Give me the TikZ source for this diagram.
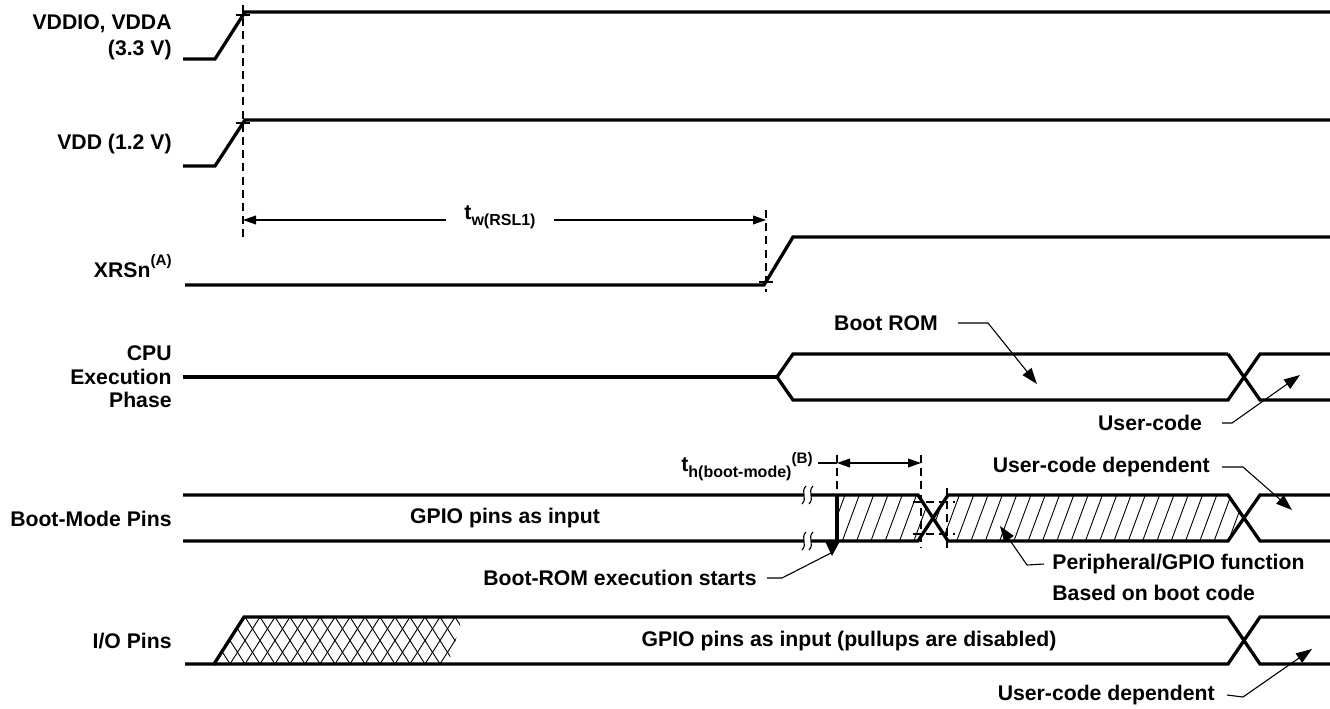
\documentclass[tikz,border=0pt]{standalone}
\usepackage{fontspec}
\setmainfont{Liberation Sans}
\usetikzlibrary{arrows.meta}
\newcommand{\lsub}[1]{\raisebox{-0.55ex}{\fontsize{8pt}{8pt}\selectfont\bfseries #1}}
\newcommand{\lsup}[2][1.05ex]{\raisebox{#1}{\fontsize{7.6pt}{7.6pt}\selectfont\bfseries #2}}
\begin{document}
\begin{tikzpicture}[x=0.5pt,y=-0.5pt,
  sig/.style={line width=1.65pt},
  lbl/.style={font=\fontsize{10.6pt}{11.8pt}\selectfont\bfseries, inner sep=0pt},
  lead/.style={line width=0.55pt},
  ldarrow/.style={lead,-{Triangle[length=8pt,width=5.6pt]}},
  dimarr/.style={lead,-{Triangle[length=6.5pt,width=4.4pt]}},
  ext/.style={line width=0.55pt,dash pattern=on 4pt off 2.6pt},
  hatch/.style={line width=0.45pt}]
\useasboundingbox (0,0) rectangle (1330,708);

% ---------- left labels ----------
\node[lbl,anchor=east,align=right] (lvddio) at (172,37) {VDDIO, VDDA\\[1.2pt](3.3 V)};
\node[lbl,anchor=east] (lvdd) at (172,144) {VDD (1.2 V)};
\node[lbl,anchor=east] (lxrs) at (172,266) {XRSn\lsup{(A)}};
\node[lbl,anchor=east,align=right] (lcpu) at (172,377) {CPU\\Execution\\Phase};
\node[lbl,anchor=east] (lboot) at (172,519) {Boot-Mode Pins};
\node[lbl,anchor=east] (lio) at (172,641) {I/O Pins};

% ---------- supplies ----------
\draw[sig] (183,59) -- (215,59) -- (245,12) -- (1330,12);
\draw[sig] (183,166) -- (215,166) -- (245,120) -- (1330,120);
\coordinate (dA) at (243,5);
\coordinate (dB) at (243,238);
\draw[ext] (dA) -- (dB);
\draw[lead] (236,15) -- (250,15);
\draw[lead] (236,123) -- (250,123);

% ---------- XRSn ----------
\draw[sig] (185,285) -- (764,285) -- (793,237) -- (1330,237);
\coordinate (eA) at (766,210);
\coordinate (eB) at (766,292);
\draw[ext] (eA) -- (eB);
\draw[lead] (759,282) -- (773,282);
\node[lbl,inner xsep=9pt] (tw) at (500,217) {t\lsub{w(RSL1)}};
\coordinate (twL) at (243,220);
\coordinate (twR) at (766,220);
\draw[dimarr] (tw.west |- twL) -- (twL);
\draw[dimarr] (tw.east |- twR) -- (twR);

% ---------- CPU ----------
\draw[sig] (183,377) -- (777,377);
\draw[sig] (1228,354) -- (793,354) -- (777,377) -- (793,400) -- (1228,400) -- (1260,354) -- (1330,354);
\draw[sig] (1228,354) -- (1260,400) -- (1330,400);
\node[lbl] (lbrom) at (886,323) {Boot ROM};
\coordinate (brom) at (1037,384);
\draw[ldarrow] ([xshift=10pt]lbrom.east) -- (988,323) -- (brom);
\node[lbl] (lucode) at (1150,423) {User-code};
\coordinate (ucode) at (1300,375);
\draw[ldarrow] ([xshift=10pt]lucode.east) -- (1232,423) -- (ucode);

% ---------- Boot-mode pins ----------
\begin{scope}
\clip (837,495) -- (918,495) -- (933,518) -- (918,541) -- (837,541) -- cycle
      (933,518) -- (948,495) -- (1228,495) -- (1244,518) -- (1228,541) -- (948,541) -- cycle;
\foreach \i in {0,...,30}
  \draw[hatch] ({828+\i*14.3},541) -- ({845+\i*14.3},495);
\end{scope}
\draw[sig] (183,495) -- (918,495) -- (948,541) -- (1228,541) -- (1260,495) -- (1330,495);
\draw[sig] (183,541) -- (918,541) -- (948,495) -- (1228,495) -- (1260,541) -- (1330,541);
\draw[sig] (837,495) -- (837,541);
% break marks
\foreach \yy in {495,541} {
  \fill[white] (804,\yy-3) rectangle (811,\yy+3);
  \foreach \xx in {804,811}
    \draw[lead] (\xx+2,\yy-9) .. controls (\xx-4,\yy-3) and (\xx+4,\yy+3) .. (\xx-2,\yy+9);
}
\node[lbl] (gpio1) at (505,518) {GPIO pins as input};
% t_h dimension
\coordinate (hA) at (837,455);
\coordinate (hB) at (837,493);
\draw[ext] (hA) -- (hB);
\coordinate (hC) at (921,455);
\coordinate (hD) at (921,548);
\draw[ext] (hC) -- (hD);
\draw[ext] (947,488) -- (947,548);
\draw[ext] (913,502) -- (955,502);
\draw[ext] (913,534) -- (955,534);
\coordinate (hL) at (837,463);
\coordinate (hR) at (921,463);
\coordinate (hM) at (879,463);
\draw[dimarr] (hM) -- (hL);
\draw[dimarr] (hM) -- (hR);
\node[lbl,anchor=east] (th) at (813,467) {t\lsub{h(boot-mode)}\lsup[0.7ex]{(B)}};
\draw[lead] ([xshift=2.5pt]th.east |- hL) -- (hL);
% boot ROM execution starts
\fill (825,541) -- (840,541) -- (832,556) -- cycle;
\coordinate (bstart) at (831,553);
\node[lbl,anchor=east] (lbstart) at (757,578) {Boot-ROM execution starts};
\draw[lead] ([xshift=5pt]lbstart.east) -- (782,578) -- (bstart);
% user-code dependent (boot)
\node[lbl,anchor=east] (lucd1) at (1210,467) {User-code dependent};
\coordinate (ucd1) at (1292,510);
\draw[ldarrow] ([xshift=6pt]lucd1.east) -- (1243,467) -- (ucd1);
% peripheral
\node[lbl,anchor=west] (lper) at (1052,564) {Peripheral/GPIO function};
\node[lbl,anchor=west] (lbase) at (1052,593) {Based on boot code};
\coordinate (per) at (1000,526);
\draw[ldarrow] ([xshift=-4pt]lper.west) -- (1027,565) -- (per);

% ---------- I/O pins ----------
\begin{scope}
\clip (214,664) -- (244,617) -- (463,617) -- (448,664) -- cycle;
\foreach \i in {0,...,20}
  \draw[hatch] ({200+\i*15},664) -- ({230+\i*15},617);
\foreach \i in {0,...,20}
  \draw[hatch] ({200+\i*15},617) -- ({230+\i*15},664);
\end{scope}
\draw[sig] (185,664) -- (214,664) -- (244,617) -- (1228,617) -- (1260,664) -- (1330,664);
\draw[sig] (214,664) -- (1228,664) -- (1260,617) -- (1330,617);
\node[lbl] (gpio2) at (849,641) {GPIO pins as input (pullups are disabled)};
\node[lbl,anchor=east] (lucd2) at (1215,695) {User-code dependent};
\coordinate (ucd2) at (1312,649);
\draw[ldarrow] ([xshift=6pt]lucd2.east) -- (1243,697) -- (ucd2);
\end{tikzpicture}
\end{document}
